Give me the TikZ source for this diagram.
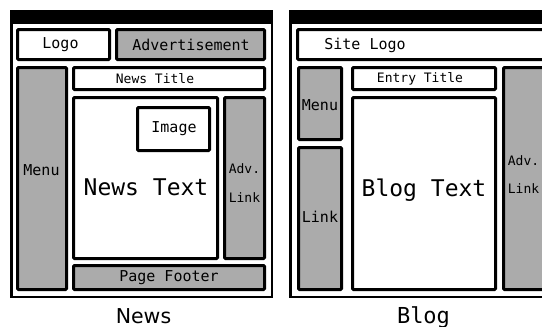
\documentclass[tikz,border=0pt]{standalone}
\usepackage{fontspec}
\setmainfont{DejaVu Sans}
\newfontfamily\labelfont{DejaVu Sans Mono}
\definecolor{panegray}{gray}{0.67}
\tikzset{
  frame/.style={draw=black, line width=2.5pt, fill=white},
  bar/.style={fill=black, draw=none},
  box/.style={draw=black, line width=3pt, fill=white, rounded corners=1pt},
  graybox/.style={box, fill=panegray},
  lbl/.style={inner sep=0pt, font=\labelfont\fontsize{15}{18}\selectfont},
  smalllbl/.style={inner sep=0pt, font=\labelfont\fontsize{13}{16}\selectfont},
  biglbl/.style={inner sep=0pt, font=\labelfont\fontsize{23}{28}\selectfont},
  caption/.style={inner sep=0pt, anchor=base, font=\fontsize{20.5}{24}\selectfont},
  monocaption/.style={inner sep=0pt, anchor=base, font=\labelfont\fontsize{22}{26}\selectfont}
}
\begin{document}
\begin{tikzpicture}[x=1pt, y=-1pt]
\useasboundingbox (0,0) rectangle (542,327);
\clip (0,0) rectangle (542,327);

% ---------- News layout ----------
\draw[frame] (11.25,11.25) rectangle (271.75,296.75);
\fill[bar] (10,10) rectangle (273,24);
\draw[box]      (17.5,29.5)  rectangle (109.5,59.5);
\draw[graybox]  (116.5,29.5) rectangle (264.5,59.5);
\draw[graybox]  (17.5,67.5)  rectangle (66.5,289.5);
\draw[box]      (73.5,67.5)  rectangle (264.5,89.5);
\draw[box]      (73.5,97.5)  rectangle (217.5,258.5);
\draw[box]      (137.5,107.5) rectangle (209.5,150.5);
\draw[graybox]  (224.5,97.5) rectangle (264.5,258.5);
\draw[graybox]  (73.5,265.5) rectangle (264.5,289.5);

\node[lbl] (nlogo) at (60.5,45) {Logo};
\node[lbl] (nad) at (191,45) {Advertisement};
\node[lbl] (nmenu) at (41.5,170) {Menu};
\node[smalllbl] (ntitle) at (155,79) {News Title};
\node[lbl] (nimage) at (174,129) {Image};
\node[biglbl] (ntext) at (146,187) {News Text};
\node[smalllbl] (nadv) at (244.5,168.5) {Adv.};
\node[smalllbl] (nlink) at (244.5,197.5) {Link};
\node[lbl] (nfoot) at (169,278) {Page Footer};
\node[caption] (ncap) at (143.5,323) {News};

% ---------- Blog layout ----------
\draw[frame] (290.25,11.25) rectangle (560,296.75);
\fill[bar] (289,10) rectangle (560,24);
\draw[box]      (297.5,29.5)  rectangle (565,59.5);
\draw[graybox]  (298.5,67.5)  rectangle (341.5,139.5);
\draw[graybox]  (298.5,147.5) rectangle (341.5,289.5);
\draw[box]      (352.5,67.5)  rectangle (495.5,89.5);
\draw[box]      (352.5,97.5)  rectangle (495.5,289.5);
\draw[graybox]  (503.5,67.5)  rectangle (565,289.5);

\node[lbl] (bsite) at (365,45) {Site Logo};
\node[lbl] (bmenu) at (320,105) {Menu};
\node[lbl] (blink) at (320,217) {Link};
\node[smalllbl] (btitle) at (420,79) {Entry Title};
\node[biglbl] (btext) at (424,190) {Blog Text};
\node[smalllbl] (badv) at (523.5,160.5) {Adv.};
\node[smalllbl] (blink2) at (523.5,188.5) {Link};
\node[monocaption] (bcap) at (423.5,323) {Blog};
\end{tikzpicture}
\end{document}
